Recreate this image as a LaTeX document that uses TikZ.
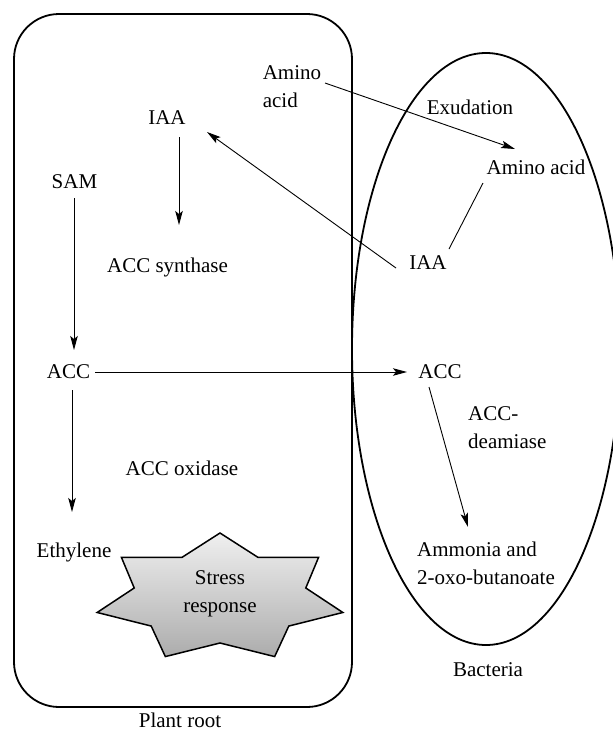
\documentclass[tikz,border=0pt]{standalone}
\usepackage{fontspec}
\setmainfont{Liberation Serif}
\usetikzlibrary{arrows.meta,calc}
\begin{document}
\begin{tikzpicture}[x=1pt,y=-1pt,
  lbl/.style={inner sep=0pt,font=\fontsize{21}{28}\selectfont},
  arr/.style={line width=0.9pt,-{Stealth[length=14pt,width=7.5pt,inset=3pt]}},
  plainline/.style={line width=0.9pt},
  boundary/.style={line width=1.8pt},
  starsty/.style={line width=1.5pt,top color=gray!12,bottom color=gray!65}]
\useasboundingbox (0,0) rectangle (613,732);
\begin{scope}
\clip (0,0) rectangle (613,732);
\draw[boundary,rounded corners=45pt] (14,14) rectangle (352,707);
\draw[boundary] (486,349) ellipse [x radius=134, y radius=296];
\end{scope}
% star
\begin{scope}[shift={(220,598)}]
\draw[starsty] (-90:126 and 65) -- (-64.29:88 and 45) -- (-38.57:126 and 65) -- (-12.86:88 and 45) -- (12.86:126 and 65) -- (38.57:88 and 45) -- (64.29:126 and 65) -- (90:88 and 45) -- (115.71:126 and 65) -- (141.43:88 and 45) -- (167.14:126 and 65) -- (192.86:88 and 45) -- (218.57:126 and 65) -- (244.29:88 and 45) -- cycle;
\end{scope}
% nodes
\node[lbl,align=left] (aminoP) at (292,87) {Amino\\acid};
\node[lbl] (exud) at (470,107) {Exudation};
\node[lbl] (aminoB) at (536,167) {Amino acid};
\node[lbl] (iaaB) at (428,263) {IAA};
\node[lbl] (iaaP) at (167,118) {IAA};
\node[lbl] (sam) at (74.5,182) {SAM};
\node[lbl] (synth) at (167.5,267) {ACC synthase};
\node[lbl] (accP) at (68.5,372) {ACC};
\node[lbl] (oxid) at (182,468) {ACC oxidase};
\node[lbl] (eth) at (74,552) {Ethylene};
\node[lbl,align=center] (stress) at (220,594) {Stress\\response};
\node[lbl] (root) at (180,720) {Plant root};
\node[lbl] (accB) at (440,372) {ACC};
\node[lbl,align=left,anchor=west] (deam) at (468,428) {ACC-\\deamiase};
\node[lbl,align=left,anchor=west] (ammo) at (417,563) {Ammonia and\\2-oxo-butanoate};
\node[lbl] (bact) at (488,670) {Bacteria};
% connectors
\draw[arr] ($(aminoP)+(33,-4)$) -- ($(aminoB)+(-21,-18)$);
\draw[plainline] ($(aminoB)+(-53,16)$) -- ($(iaaB)+(21,-14)$);
\draw[arr] ($(iaaB)+(-32,5)$) -- ($(iaaP)+(40,14)$);
\draw[arr] ($(iaaP)+(12,19)$) -- ($(synth)+(11.5,-42)$);
\draw[arr] ($(sam)+(-0.5,16)$) -- ($(accP)+(5.5,-22)$);
\draw[arr] ($(accP)+(3.5,18)$) -- ($(eth)+(-2,-40)$);
\draw[arr] ($(accP)+(26.5,0)$) -- ($(accB)+(-33,0)$);
\draw[arr] ($(accB)+(-11,15)$) -- ($(ammo.west)+(51,-36)$);
\end{tikzpicture}
\end{document}
